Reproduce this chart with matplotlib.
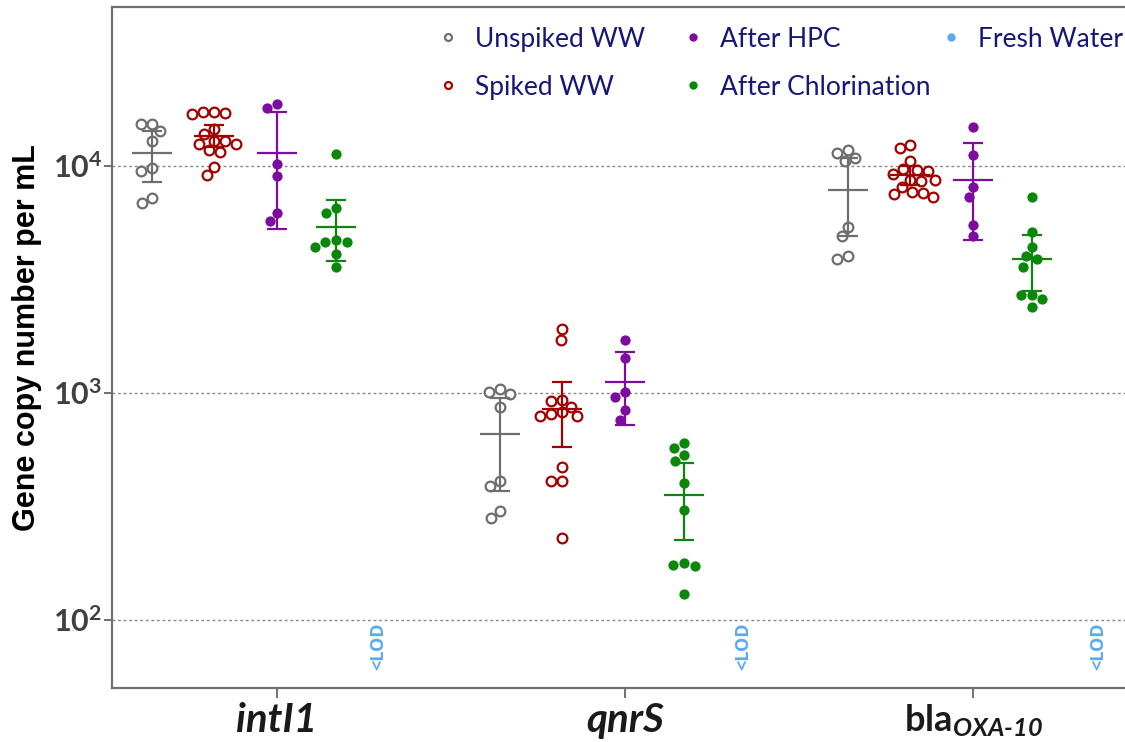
import numpy as np
import matplotlib
matplotlib.use('Agg')
import matplotlib.pyplot as plt
from matplotlib.lines import Line2D

plt.rcParams['mathtext.fontset'] = 'custom'
plt.rcParams['mathtext.rm'] = 'Lato:bold:italic'
plt.rcParams['mathtext.bf'] = 'Lato:bold'
plt.rcParams['mathtext.it'] = 'Lato:bold:italic'

# ---------------- data ----------------
genes = ['intI1', 'qnrS', 'blaOXA-10']
gene_labels = ['intI1', 'qnrS', r'bla$_{\mathrm{OXA\text{-}10}}$']
groups = ['Unspiked WW', 'Spiked WW', 'After HPC', 'After Chlorination', 'Fresh Water']

intI1_unspiked = [15300, 15300, 14300, 12900, 9500, 9800, 6900, 7200]
intI1_spiked = [17300, 17300, 17000, 17100, 14500, 13800, 12900, 12900, 12500,
                12500, 11500, 11700, 9900, 9100]
intI1_hpc = [18100, 18800, 10200, 9000, 5700, 6200]
intI1_chlor = [11300, 6500, 6200, 4600, 4700, 4600, 4400, 4100, 3600]

qnrS_unspiked = [1010, 990, 1040, 870, 390, 410, 280, 300]
qnrS_spiked = [1910, 1710, 930, 920, 870, 790, 810, 820, 790, 470, 410, 410, 230]
qnrS_hpc = [1710, 1420, 960, 1010, 840, 760]
qnrS_chlor = [600, 570, 530, 500, 400, 305, 177, 172, 175, 130]

bla_unspiked = [11700, 11400, 10800, 10500, 5400, 4900, 3900, 4000]
bla_spiked = [12000, 12400, 10500, 9700, 9200, 9600, 9500, 8700, 8600, 8700,
              8100, 7700, 7500, 7600, 7300]
bla_hpc = [14900, 11200, 8100, 7300, 5500, 4900]
bla_chlor = [7300, 5100, 4400, 3900, 4000, 3600, 2700, 2700, 2600, 2400]

# mean, lower and upper error-bar ends (per gene, per group)
intI1_mean = [11400, 13600, 11400, 5400]
intI1_low = [8500, 12100, 5300, 3800]
intI1_high = [14200, 15200, 17300, 7100]
qnrS_mean = [660, 850, 1120, 356]
qnrS_low = [370, 580, 720, 224]
qnrS_high = [950, 1120, 1510, 489]
bla_mean = [7800, 9100, 8700, 3900]
bla_low = [4900, 8250, 4700, 2800]
bla_high = [10800, 10000, 12600, 4950]

lod_label = '<LOD'
lod_value = 76

data = [[intI1_unspiked, intI1_spiked, intI1_hpc, intI1_chlor],
        [qnrS_unspiked, qnrS_spiked, qnrS_hpc, qnrS_chlor],
        [bla_unspiked, bla_spiked, bla_hpc, bla_chlor]]
means = [intI1_mean, qnrS_mean, bla_mean]
lows = [intI1_low, qnrS_low, bla_low]
highs = [intI1_high, qnrS_high, bla_high]

# ---------------- style ----------------
colors = ['#6E6E6E', '#A30000', '#7D0D9E', '#0B870B', '#5AA9F6']
filled = [False, False, True, True, True]
offsets = [-0.36, -0.18, 0.0, 0.17]
lod_offsets = [0.29, 0.34, 0.36]
legend_color = '#17177A'
W, H = 1125, 742

fig = plt.figure(figsize=(W / 100, H / 100), dpi=100)
ax = fig.add_axes([112 / W, 1 - 688 / H, 1 - 112 / W + 0.02, (688 - 7) / H])
ax.set_yscale('log')
ax.set_xlim(-0.474, 2.437 + 0.02 * W / 348)
ax.set_ylim(50, 50200)

x0p = ax.transData.transform((0, 100))[0]
x1p = ax.transData.transform((1, 100))[0]
px_per_unit = x1p - x0p


def swarm(ypix, d):
    order = np.argsort(-np.asarray(ypix))
    placed = []
    xs = np.zeros(len(ypix))
    for i in order:
        y = ypix[i]
        cands = [0.0]
        for (px, py) in placed:
            dy = abs(py - y)
            if dy < d:
                dx = np.sqrt(d * d - dy * dy)
                cands += [px + dx, px - dx]
        cands = sorted(cands, key=lambda c: (abs(c), c))
        for c in cands:
            if all((c - px) ** 2 + (y - py) ** 2 >= d * d - 1e-6 for px, py in placed):
                xs[i] = c
                break
        placed.append((xs[i], y))
    return xs


for gi in range(len(genes)):
    for k in range(4):
        vals = np.array(data[gi][k], dtype=float)
        xc = gi + offsets[k]
        ypix = np.array([ax.transData.transform((xc, v))[1] for v in vals])
        dx = swarm(ypix, 11.0) / px_per_unit
        if filled[k]:
            ax.plot(xc + dx, vals, 'o', ms=7.4, mfc=colors[k], mec=colors[k],
                    mew=0, ls='none', zorder=3)
        else:
            ax.plot(xc + dx, vals, 'o', ms=7.0, mfc='white', mec=colors[k],
                    mew=1.6, ls='none', zorder=3)
        m = means[gi][k]
        lo = lows[gi][k]
        hi = highs[gi][k]
        ax.errorbar([xc], [m], yerr=[[m - lo], [hi - m]], fmt='none',
                    ecolor=colors[k], elinewidth=1.6, capsize=7.2, capthick=1.6,
                    zorder=4)
        ax.hlines(m, xc - 20 / px_per_unit, xc + 20 / px_per_unit,
                  colors=colors[k], lw=1.6, zorder=4)
    ax.text(gi + lod_offsets[gi], lod_value, lod_label, rotation=90, ha='center',
            va='center', color=colors[4], fontsize=13, fontweight='bold',
            family='Open Sans')

# grid
for v in [100, 1000, 10000]:
    ax.axhline(v, color='#888888', lw=1.0, ls=(0, (2, 2)), zorder=1)

# axes style
ax.spines['right'].set_visible(False)
for s in ['left', 'bottom', 'top']:
    ax.spines[s].set_color('#707070')
    ax.spines[s].set_linewidth(1.6)

ax.set_yticks([100, 1000, 10000])
ax.set_yticklabels([r'$\mathbf{10^{2}}$', r'$\mathbf{10^{3}}$', r'$\mathbf{10^{4}}$'])
ax.yaxis.set_minor_locator(matplotlib.ticker.NullLocator())
ax.tick_params(axis='y', length=6, width=1.4, color='#707070', labelsize=22,
               labelcolor='#404040', pad=1)
ax.set_xticks([0, 1, 2])
ax.set_xticklabels(gene_labels)
ax.tick_params(axis='x', length=7, width=1.4, color='#707070',
               labelcolor='#1a1a1a', pad=3)
for i, lab in enumerate(ax.get_xticklabels()):
    lab.set_family('Lato')
    lab.set_fontweight('bold')
    if i < 2:
        lab.set_fontstyle('italic')
        lab.set_fontsize(29)
    else:
        lab.set_fontsize(26)

fig.text(27 / W, 1 - 338 / H, 'Gene copy number per mL', rotation=90,
         ha='center', va='center', fontsize=22, fontweight='bold',
         family='Liberation Sans', color='black')

# legend (GraphPad-style fixed columns)
leg_marker_x = [448, 448, 693, 693, 951]
leg_text_x = [475, 475, 720, 720, 978]
leg_y = [37, 85, 37, 85, 37]
for k in range(5):
    xm = leg_marker_x[k] / W
    yy = 1 - leg_y[k] / H
    if filled[k]:
        fig.add_artist(Line2D([xm], [yy], transform=fig.transFigure, marker='o',
                              ls='none', ms=6, mfc=colors[k], mec=colors[k], mew=0))
    else:
        fig.add_artist(Line2D([xm], [yy], transform=fig.transFigure, marker='o',
                              ls='none', ms=5, mfc='white', mec=colors[k], mew=1.6))
    fig.text(leg_text_x[k] / W, yy, groups[k], ha='left', va='center_baseline',
             fontsize=19, family='Lato', color=legend_color)

fig.savefig('out.png', dpi=100)
